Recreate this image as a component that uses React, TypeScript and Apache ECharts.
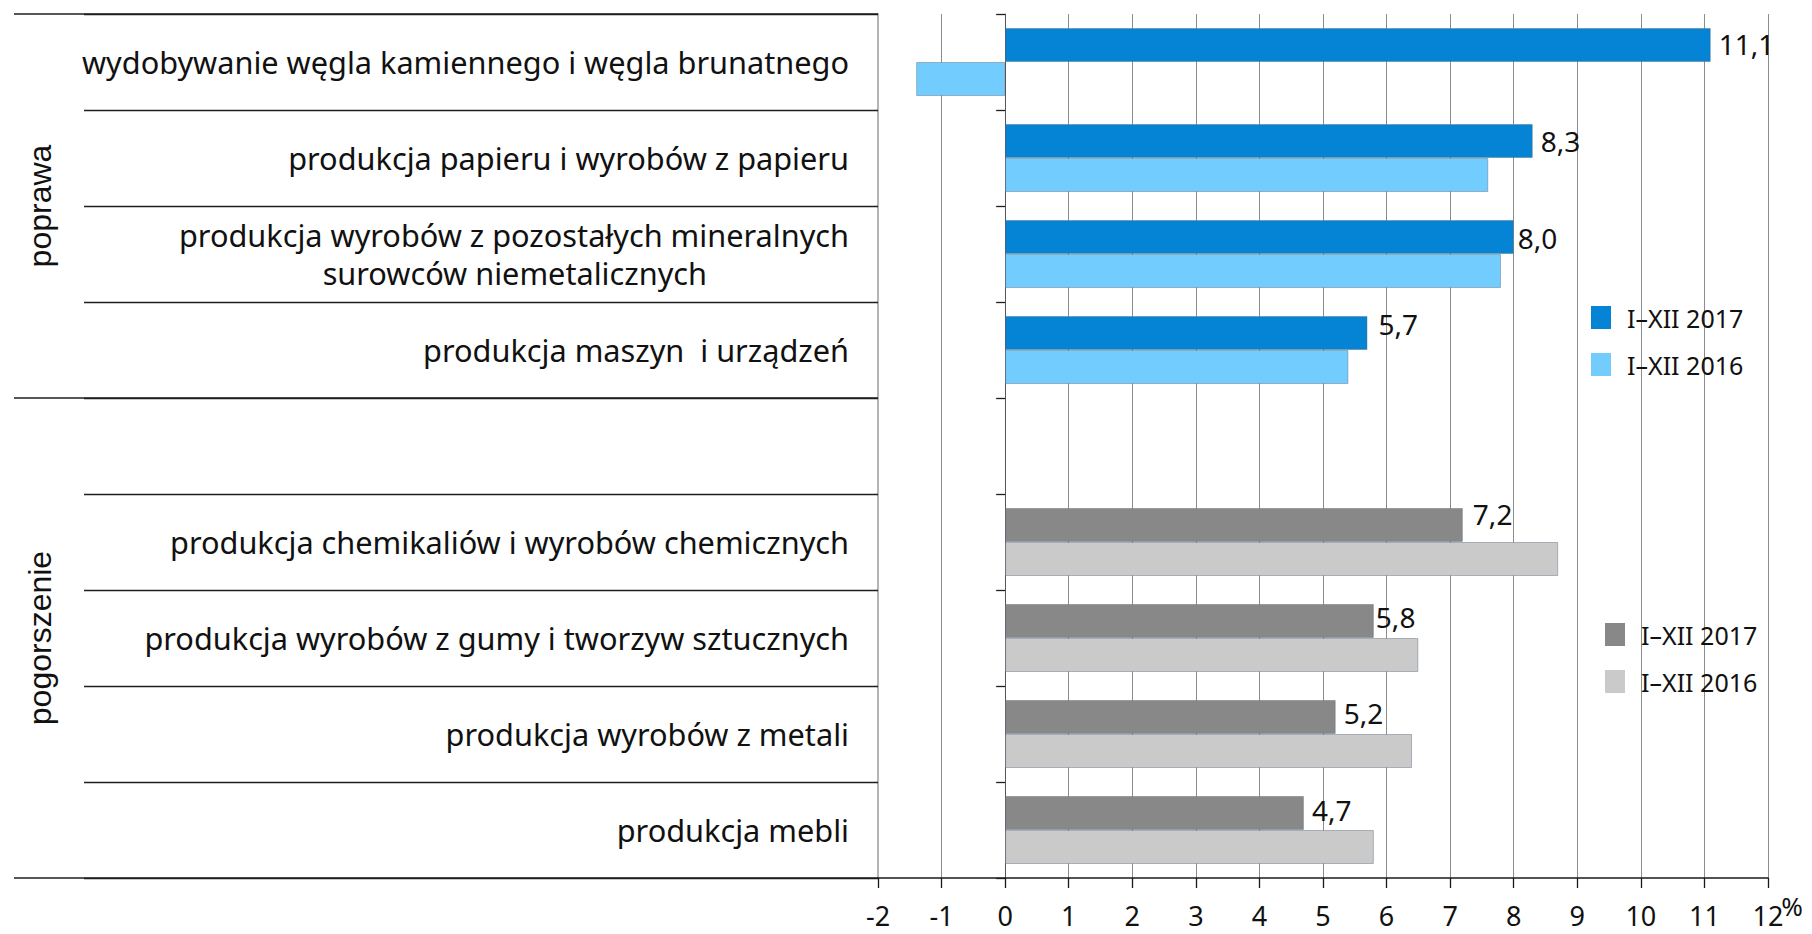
import React, { useEffect, useRef } from 'react';
import * as echarts from 'echarts';

// ---- data ----
const categories: string[] = [
  'wydobywanie węgla kamiennego i węgla brunatnego',
  'produkcja papieru i wyrobów z papieru',
  'produkcja wyrobów z pozostałych mineralnych\nsurowców niemetalicznych',
  'produkcja maszyn  i urządzeń',
  '',
  'produkcja chemikaliów i wyrobów chemicznych',
  'produkcja wyrobów z gumy i tworzyw sztucznych',
  'produkcja wyrobów z metali',
  'produkcja mebli',
];
const improved2017: (number | null)[] = [11.1, 8.3, 8.0, 5.7, null, null, null, null, null];
const improved2016: (number | null)[] = [-1.4, 7.6, 7.8, 5.4, null, null, null, null, null];
const worsened2017: (number | null)[] = [null, null, null, null, null, 7.2, 5.8, 5.2, 4.7];
const worsened2016: (number | null)[] = [null, null, null, null, null, 8.7, 6.5, 6.4, 5.8];
const legendLabels: string[] = ['I–XII 2017', 'I–XII 2016'];
const groupTitles: string[] = ['poprawa', 'pogorszenie'];
const xMin = -2;
const xMax = 12;
const xStep = 1;
const unitLabel = '%';

// ---- style / layout ----
const FONT = '"Noto Sans", "Open Sans", sans-serif';
const W = 1812;
const H = 934;
const GRID_LEFT = 878;
const GRID_TOP = 14;
const GRID_RIGHT = 44;
const GRID_BOTTOM = 56;
const PLOT_H = H - GRID_TOP - GRID_BOTTOM;
const TICK_LEN = 794;
const CAT_FONT = 30.7;
const COLORS = {
  blueDark: '#0583d5',
  blueLight: '#72cdfe',
  greyDark: '#888888',
  greyLight: '#cacaca',
};
// small per-label nudges [dx, dy] of value labels
const labelNudge: number[][] = [
  [0, -1], [0, 0], [-4, 1], [3, -9], [0, 0], [2, -11], [-6, -4], [0, -4], [0, -3],
];

const fmt = (v: number) => v.toFixed(1).replace('.', ',');

function withLabels(values: (number | null)[]) {
  return values.map((v, i) =>
    v == null
      ? null
      : {
          value: v,
          label: { offset: labelNudge[i] },
        }
  );
}

export default function App() {
  const ref = useRef<HTMLDivElement>(null);

  useEffect(() => {
    if (!ref.current) return;
    const chart = echarts.init(ref.current, undefined, { renderer: 'svg' });
    const catH = PLOT_H / categories.length;

    const barBase = {
      type: 'bar' as const,
      barWidth: 34,
      barGap: '0%',
    };
    const valueLabel = {
      show: true,
      position: 'right',
      distance: 8,
      fontFamily: FONT,
      fontSize: 28,
      color: '#111',
      formatter: (p: any) => fmt(p.value),
    };
    const border = { borderColor: 'rgba(90,110,130,0.45)', borderWidth: 1 };

    const sepLines = [0, 4, categories.length].map((k) => ({
      type: 'line',
      silent: true,
      z: 10,
      shape: { x1: 14, y1: GRID_TOP + k * catH, x2: GRID_LEFT, y2: GRID_TOP + k * catH },
      style: { stroke: '#1e1e1e', lineWidth: 1.3 },
    }));

    const legendText = {
      fontFamily: FONT,
      fontSize: 25,
      color: '#111',
      lineHeight: 23,
      padding: [0, 0, 0, 11],
    };

    const option: any = {
      animation: false,
      backgroundColor: '#ffffff',
      grid: {
        left: GRID_LEFT,
        top: GRID_TOP,
        right: GRID_RIGHT,
        bottom: GRID_BOTTOM,
        containLabel: false,
        outerBoundsMode: 'none',
      },
      legend: [
        {
          data: ['a|' + legendLabels[0], 'a|' + legendLabels[1]],
          orient: 'vertical',
          left: 1586,
          top: 300,
          itemWidth: 20,
          itemHeight: 23,
          itemGap: 22,
          icon: 'rect',
          selectedMode: false,
          itemStyle: { borderWidth: 0 },
          formatter: (n: string) => n.split('|')[1],
          textStyle: legendText,
        },
        {
          data: ['b|' + legendLabels[0], 'b|' + legendLabels[1]],
          orient: 'vertical',
          left: 1600,
          top: 617,
          itemWidth: 20,
          itemHeight: 23,
          itemGap: 22,
          icon: 'rect',
          selectedMode: false,
          itemStyle: { borderWidth: 0 },
          formatter: (n: string) => n.split('|')[1],
          textStyle: legendText,
        },
      ],
      xAxis: {
        type: 'value',
        min: xMin,
        max: xMax,
        interval: xStep,
        axisLine: { show: true, onZero: false, lineStyle: { color: '#1a1a1a', width: 1.5 } },
        axisTick: { show: true, length: 10, lineStyle: { color: '#1a1a1a', width: 1.3 } },
        axisLabel: {
          fontFamily: FONT,
          fontSize: 27,
          lineHeight: 22,
          color: '#111',
          margin: 26,
          formatter: (v: number) => String(v),
        },
        splitLine: { show: true, lineStyle: { color: '#8c8c8c', width: 1 } },
      },
      yAxis: [
        {
          type: 'category',
          data: categories,
          inverse: true,
          position: 'left',
          axisLine: { show: true, onZero: false, lineStyle: { color: '#b4b4b4', width: 2 } },
          axisTick: { show: true, length: TICK_LEN, lineStyle: { color: '#1e1e1e', width: 1.3 } },
          axisLabel: {
            fontFamily: FONT,
            fontSize: CAT_FONT,
            color: '#111',
            margin: 29,
            lineHeight: 38,
            formatter: (v: string) => {
              const parts = v.split('\n');
              if (parts.length < 2) return v;
              return '{l1|' + parts[0] + '}\n{l2|' + parts[1] + '}';
            },
            rich: {
              l1: { fontFamily: FONT, fontSize: CAT_FONT, color: '#111', lineHeight: 38 },
              l2: { fontFamily: FONT, fontSize: CAT_FONT, color: '#111', lineHeight: 38, padding: [0, 142, 0, 0] },
            },
          },
          splitLine: { show: false },
        },
        {
          type: 'category',
          data: categories,
          inverse: true,
          position: 'left',
          axisLine: { show: true, onZero: true, lineStyle: { color: '#555555', width: 1 } },
          axisTick: { show: true, length: 9, lineStyle: { color: '#1e1e1e', width: 1.3 } },
          axisLabel: { show: false },
          splitLine: { show: false },
        },
      ],
      series: [
        {
          ...barBase,
          name: 'a|' + legendLabels[0],
          stack: 's2017',
          yAxisIndex: 0,
          itemStyle: { color: COLORS.blueDark, ...border },
          label: valueLabel,
          data: withLabels(improved2017),
        },
        {
          ...barBase,
          name: 'a|' + legendLabels[1],
          stack: 's2016',
          yAxisIndex: 0,
          itemStyle: { color: COLORS.blueLight, ...border },
          data: improved2016,
        },
        {
          ...barBase,
          name: 'b|' + legendLabels[0],
          stack: 's2017',
          yAxisIndex: 0,
          itemStyle: { color: COLORS.greyDark, ...border },
          label: valueLabel,
          data: withLabels(worsened2017),
        },
        {
          ...barBase,
          name: 'b|' + legendLabels[1],
          stack: 's2016',
          yAxisIndex: 0,
          itemStyle: { color: COLORS.greyLight, ...border },
          data: worsened2016,
        },
      ],
      graphic: [
        ...sepLines,
        {
          type: 'text',
          x: 40,
          y: GRID_TOP + 2 * catH,
          rotation: Math.PI / 2,
          silent: true,
          style: {
            text: groupTitles[0],
            font: '32px "Liberation Sans", Arial, sans-serif',
            fill: '#111',
            align: 'center',
            verticalAlign: 'middle',
          },
        },
        {
          type: 'text',
          x: 40,
          y: GRID_TOP + 6.5 * catH,
          rotation: Math.PI / 2,
          silent: true,
          style: {
            text: groupTitles[1],
            font: '32px "Liberation Sans", Arial, sans-serif',
            fill: '#111',
            align: 'center',
            verticalAlign: 'middle',
          },
        },
        {
          type: 'text',
          x: W - GRID_RIGHT + 24,
          y: H - GRID_BOTTOM + 28,
          silent: true,
          style: {
            text: unitLabel,
            font: '26px "Noto Sans", sans-serif',
            fill: '#111',
            align: 'center',
            verticalAlign: 'middle',
          },
        },
      ],
    };

    chart.setOption(option);
    return () => chart.dispose();
  }, []);

  return (
    <div
      ref={ref}
      style={{ position: 'fixed', left: 0, top: 0, width: W, height: H, background: '#fff' }}
    />
  );
}
